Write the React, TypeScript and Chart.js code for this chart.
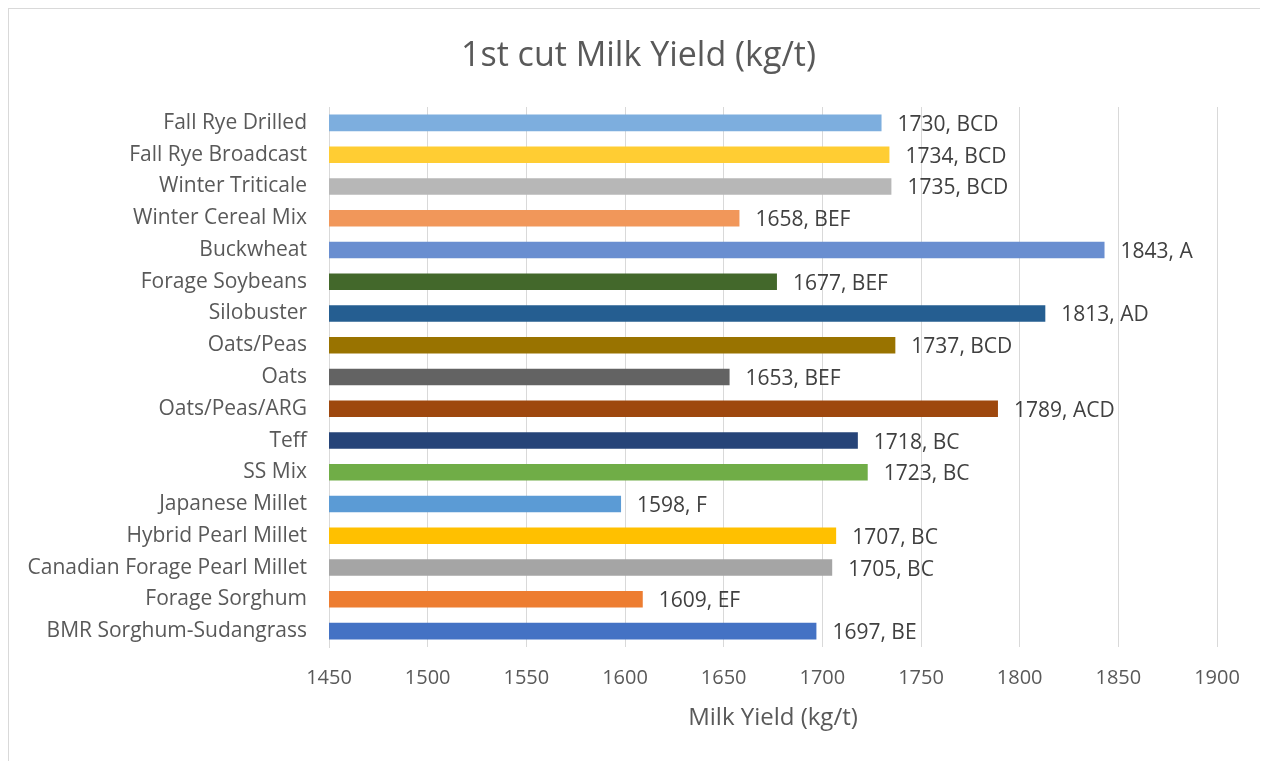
import React, { useEffect, useRef } from "react";
import { Chart, registerables } from "chart.js";

Chart.register(...registerables);

const chartTitle = "1st cut Milk Yield (kg/t)";
const axisTitle = "Milk Yield (kg/t)";

const categories = [
  "Fall Rye Drilled",
  "Fall Rye Broadcast",
  "Winter Triticale",
  "Winter Cereal Mix",
  "Buckwheat",
  "Forage Soybeans",
  "Silobuster",
  "Oats/Peas",
  "Oats",
  "Oats/Peas/ARG",
  "Teff",
  "SS Mix",
  "Japanese Millet",
  "Hybrid Pearl Millet",
  "Canadian Forage Pearl Millet",
  "Forage Sorghum",
  "BMR Sorghum-Sudangrass",
];

const milkYield = [1730, 1734, 1735, 1658, 1843, 1677, 1813, 1737, 1653, 1789, 1718, 1723, 1598, 1707, 1705, 1609, 1697];

const letters = ["BCD", "BCD", "BCD", "BEF", "A", "BEF", "AD", "BCD", "BEF", "ACD", "BC", "BC", "F", "BC", "BC", "EF", "BE"];

const barColors = [
  "#7DAEDE",
  "#FFCD33",
  "#B7B7B7",
  "#F1975A",
  "#698ED0",
  "#43682B",
  "#255E91",
  "#997300",
  "#636363",
  "#9E480E",
  "#264478",
  "#70AD47",
  "#5B9BD5",
  "#FFC000",
  "#A5A5A5",
  "#ED7D31",
  "#4472C4",
];

const xTicks = [1450, 1500, 1550, 1600, 1650, 1700, 1750, 1800, 1850, 1900];

const FONT = "'Open Sans', Lato, sans-serif";

const labelPlugin = {
  id: "barLabels",
  afterDatasetsDraw(chart: any) {
    const ctx = chart.ctx;
    const meta = chart.getDatasetMeta(0);
    ctx.save();
    ctx.font = `21px ${FONT}`;
    ctx.fillStyle = "#404040";
    ctx.textAlign = "left";
    ctx.textBaseline = "middle";
    meta.data.forEach((bar: any, i: number) => {
      ctx.fillText(`${milkYield[i]}, ${letters[i]}`, bar.x + 16, bar.y + 2);
    });
    ctx.restore();
  },
};

const titlePlugin = {
  id: "centeredTitle",
  afterDraw(chart: any) {
    const ctx = chart.ctx;
    ctx.save();
    ctx.font = `34px ${FONT}`;
    ctx.fillStyle = "#595959";
    ctx.textAlign = "center";
    ctx.textBaseline = "middle";
    ctx.fillText(chartTitle, chart.width / 2, 47);
    ctx.restore();
  },
};

export default function App() {
  const ref = useRef<HTMLCanvasElement | null>(null);

  useEffect(() => {
    if (!ref.current) return;
    const chart = new Chart(ref.current, {
      type: "bar",
      data: {
        labels: categories,
        datasets: [
          {
            data: milkYield,
            backgroundColor: barColors,
            borderWidth: 0,
            categoryPercentage: 1,
            barPercentage: 0.52,
          },
        ],
      },
      options: {
        indexAxis: "y",
        animation: false,
        responsive: false,
        maintainAspectRatio: false,
        layout: { padding: { left: 0, top: 98, bottom: 0, right: 51 } },
        plugins: {
          legend: { display: false },
          tooltip: { enabled: false },
          title: { display: false },
        },
        scales: {
          x: {
            min: 1450,
            max: 1900,
            afterBuildTicks: (scale: any) => {
              scale.ticks = xTicks.map((v) => ({ value: v }));
            },
            afterFit: (scale: any) => {
              scale.height = 114;
            },
            grid: { color: "#D9D9D9", lineWidth: 1, drawTicks: false },
            border: { display: false },
            ticks: {
              color: "#595959",
              font: { family: FONT, size: 20 },
              padding: 19,
              callback: (v: any) => String(v),
            },
            title: {
              display: true,
              text: axisTitle,
              color: "#595959",
              font: { family: FONT, size: 24 },
              padding: { top: 0, bottom: 28 },
            },
          },
          y: {
            afterFit: (scale: any) => {
              scale.width = 320;
            },
            grid: { display: false, drawTicks: false },
            border: { display: true, color: "#D9D9D9", width: 1 },
            ticks: {
              color: "#595959",
              font: { family: FONT, size: 21 },
              padding: 22,
              autoSkip: false,
            },
          },
        },
      },
      plugins: [labelPlugin, titlePlugin],
    });
    return () => chart.destroy();
  }, []);

  return (
    <div style={{ width: 1260, height: 753, overflow: "hidden" }}>
      <div
        style={{
          width: 1300,
          height: 800,
          border: "1px solid #D9D9D9",
          boxSizing: "border-box",
          background: "#fff",
        }}
      >
        <canvas ref={ref} width={1259} height={752} style={{ display: "block" }} />
      </div>
    </div>
  );
}
